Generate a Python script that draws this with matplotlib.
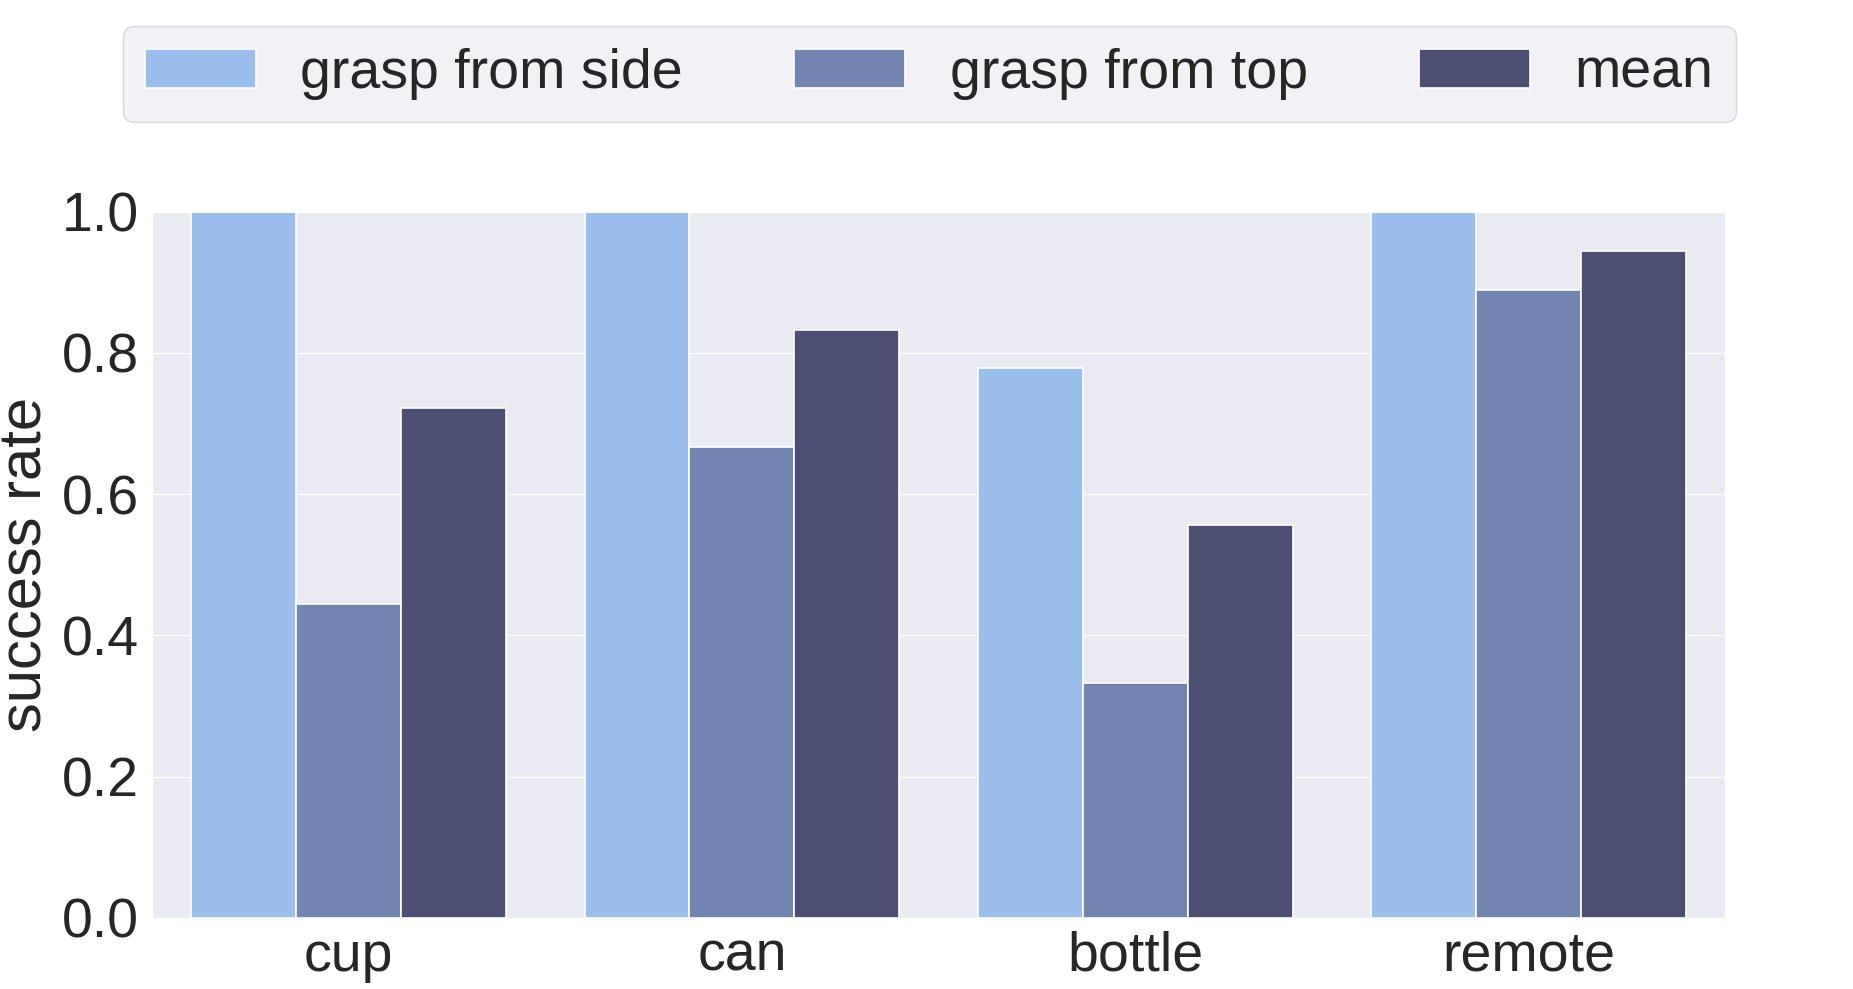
import numpy as np
import seaborn as sns
from matplotlib import pyplot as plt

objects = ['cup', 'can', 'bottle', 'remote']
side = [1.0, 1.0, 0.778, 1.0]
top = [0.444, 0.667, 0.333, 0.889]
mean = [0.722, 0.833, 0.556, 0.944]

series_names = ['grasp from side', 'grasp from top', 'mean']
colors = ['#9bbfed', '#7284b0', '#4c4f73']

sns.set_style('darkgrid')
plt.rcParams['font.family'] = ['Liberation Sans', 'DejaVu Sans']

fig = plt.figure(figsize=(18.53, 9.89), dpi=100)
ax = fig.add_axes([0.082, 0.072, 0.849, 0.714])

x = np.arange(len(objects))
w = 0.8 / 3
for i, (vals, name) in enumerate(zip([side, top, mean], series_names)):
    ax.bar(x - 0.4 + w * (i + 0.5), vals, width=w, color=colors[i],
           edgecolor='white', linewidth=1.2, label=name)

ax.set_xlim(-0.5, len(objects) - 0.5)
ax.set_ylim(0, 1.0)
ax.set_xticks(x)
ax.set_xticklabels(objects)
ax.set_yticks([0.0, 0.2, 0.4, 0.6, 0.8, 1.0])
ax.tick_params(axis='both', labelsize=40, colors='#262626', pad=6)
ax.set_ylabel('success rate', fontsize=43, color='#262626', labelpad=6)
ax.grid(axis='x', visible=False)

leg = ax.legend(loc='lower center', bbox_to_anchor=(0.494, 1.127), ncol=3,
                fontsize=40, frameon=True, borderaxespad=0)
leg.get_frame().set_facecolor('#eeeef4')
leg.get_frame().set_edgecolor('#d0d0d0')

plt.savefig('out.png', dpi=100)
